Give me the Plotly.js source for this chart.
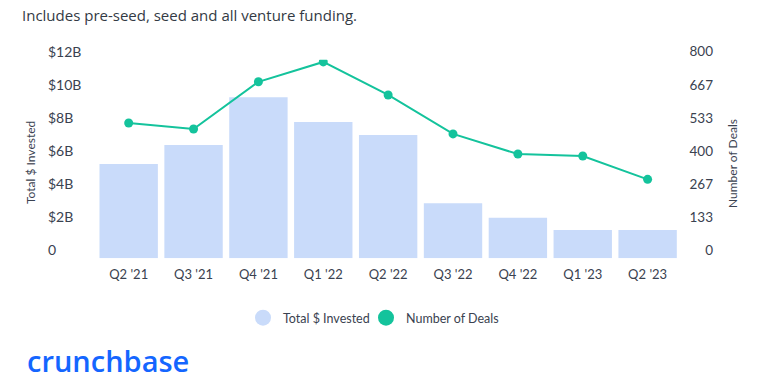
<!DOCTYPE html>
<html>
<head>
<meta charset="utf-8">
<script src="https://cdn.plot.ly/plotly-3.0.1.min.js"></script>
<style>html,body{margin:0;padding:0;background:#fff;}#chart{width:757px;height:392px;}</style>
</head>
<body>
<div id="chart"></div>
<script>
const quarters = ["Q2 '21", "Q3 '21", "Q4 '21", "Q1 '22", "Q2 '22", "Q3 '22", "Q4 '22", "Q1 '23", "Q2 '23"];
const investedB = [5.70, 6.85, 9.73, 8.24, 7.45, 3.32, 2.45, 1.71, 1.71];
const deals = [545, 521, 711, 791, 658, 501, 420, 412, 318];
const leftTickVals = [0, 2, 4, 6, 8, 10, 12];
const leftTickText = ["0", "$2B", "$4B", "$6B", "$8B", "$10B", "$12B"];
const rightTickVals = [0, 800/6, 1600/6, 400, 3200/6, 4000/6, 800];
const rightTickText = ["0", "133", "267", "400", "533", "667", "800"];

const W = 757, H = 392;
const barColor = '#c9dbfa';
const lineColor = '#14c39c';
const textColor = '#3a4250';
const fontFam = 'Lato, "Open Sans", sans-serif';

const traces = [
  {type: 'bar', x: quarters, y: investedB, marker: {color: barColor}, showlegend: false, hoverinfo: 'skip'},
  {type: 'scatter', mode: 'lines+markers', x: quarters, y: deals, yaxis: 'y2',
   line: {color: lineColor, width: 2}, marker: {color: lineColor, size: 9}, showlegend: false, hoverinfo: 'skip'},
  {type: 'scatter', mode: 'markers', x: [null], y: [null], name: 'Total $ Invested', legend: 'legend',
   marker: {color: barColor, size: 16}},
  {type: 'scatter', mode: 'markers', x: [null], y: [null], name: 'Number of Deals', yaxis: 'y2', legend: 'legend2',
   marker: {color: lineColor, size: 16}}
];

const yTop = 59.7, yBot = 258.3;
const legendBase = {orientation: 'h', xanchor: 'left', y: 1 - 318/H, yanchor: 'middle',
                    font: {size: 12.5, color: textColor}, bgcolor: 'rgba(0,0,0,0)'};
const layout = {
  width: W, height: H,
  margin: {l: 0, r: 0, t: 0, b: 0},
  paper_bgcolor: '#fff', plot_bgcolor: '#fff',
  font: {family: fontFam, color: textColor, size: 13},
  title: {text: 'Includes pre-seed, seed and all venture funding.', x: 22/W, xanchor: 'left',
          y: 1 - 16/H, yanchor: 'middle', yref: 'container',
          font: {family: '"Open Sans", sans-serif', size: 15, color: '#333a44'}},
  bargap: 0.1,
  xaxis: {type: 'category', domain: [93.6/W, 682.7/W], showgrid: false, zeroline: false, showline: false,
          ticks: '', ticklabelstandoff: 7, tickfont: {size: 13, color: textColor}, fixedrange: true},
  yaxis: {domain: [1 - yBot/H, 1 - yTop/H], range: [0, 12], anchor: 'free', position: 44/W,
          tickvals: leftTickVals, ticktext: leftTickText, ticklabelposition: 'inside',
          ticklabeloverflow: 'allow', ticklabelshift: -8, showgrid: false, zeroline: false, showline: false,
          ticks: '', tickfont: {size: 14, color: textColor}},
  yaxis2: {overlaying: 'y', side: 'right', range: [0, 800], anchor: 'free', position: 716/W,
           tickvals: rightTickVals, ticktext: rightTickText, ticklabelposition: 'inside',
           ticklabeloverflow: 'allow', ticklabelshift: -8, showgrid: false, zeroline: false, showline: false,
           ticks: '', tickfont: {size: 13.5, color: textColor}},
  legend: Object.assign({}, legendBase, {x: 243/W}),
  legend2: Object.assign({}, legendBase, {x: 366/W}),
  annotations: [
    {text: 'Total $ Invested', xref: 'paper', yref: 'paper', x: 30/W, y: 1 - 163/H, textangle: -90,
     showarrow: false, xanchor: 'center', yanchor: 'middle', font: {size: 12, color: textColor}},
    {text: 'Number of Deals', xref: 'paper', yref: 'paper', x: 732/W, y: 1 - 164/H, textangle: -90,
     showarrow: false, xanchor: 'center', yanchor: 'middle', font: {size: 12, color: textColor}},
    {text: 'crunchbase', xref: 'paper', yref: 'paper', x: 25/W, y: 1 - 360/H, xanchor: 'left', yanchor: 'middle',
     showarrow: false, font: {family: '"Open Sans", sans-serif', size: 29, color: '#1466ff', weight: 600}}
  ]
};

Plotly.newPlot('chart', traces, layout, {displayModeBar: false, staticPlot: true});
</script>
</body>
</html>
